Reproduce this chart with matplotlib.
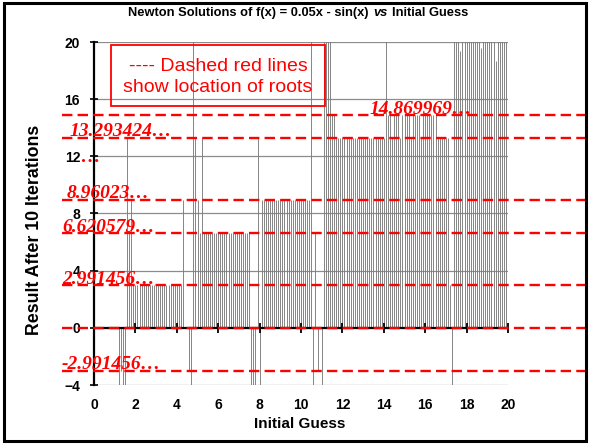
import numpy as np
import matplotlib.pyplot as plt
import matplotlib.transforms as mtransforms
from matplotlib.patches import Rectangle

plt.rcParams['font.family'] = ['Liberation Sans', 'DejaVu Sans']
plt.rcParams['font.weight'] = 'bold'

# initial guesses 0.0, 0.1, ... 20.0
guess = np.round(np.arange(201) * 0.1, 1)

# result after 10 iterations (values beyond the axis are clipped)
result = [
    0, 0, 0, 0, 0, 0, 0, 0, 0, 0,                                   # 0.0 - 0.9
    0, 0, -14.87, -2.99, -6.62, -8.96, 13.29, 6.62, 8.96, 2.99,     # 1.0 - 1.9
    2.99, 2.99, 2.99, 2.99, 2.99, 2.99, 2.99, 2.99, 2.99, 2.99,     # 2.0 - 2.9
    2.99, 2.99, 2.99, 2.99, 2.99, 2.99, 2.99, 2.99, 2.99, 2.99,     # 3.0 - 3.9
    2.99, 2.99, 2.99, 8.96, 0, 0, -2.99, -14.87, 37.8, 13.29,       # 4.0 - 4.9
    8.96, 6.62, 13.29, 6.62, 6.62, 6.62, 6.62, 6.62, 6.62, 6.62,    # 5.0 - 5.9
    6.62, 6.62, 6.62, 6.62, 6.62, 6.62, 6.62, 6.62, 6.62, 6.62,     # 6.0 - 6.9
    6.62, 6.62, 6.62, 6.62, 6.62, 6.62, -8.96, -13.29, -6.62, 13.29,  # 7.0 - 7.9
    -14.87, 8.96, 8.96, 8.96, 8.96, 8.96, 8.96, 8.96, 8.96, 8.96,   # 8.0 - 8.9
    8.96, 8.96, 8.96, 8.96, 8.96, 8.96, 8.96, 8.96, 8.96, 8.96,     # 9.0 - 9.9
    8.96, 8.96, 8.96, 8.96, 8.96, 30.0, -20.0, 6.62, -2.99, 0,      # 10.0 - 10.9
    -14.87, 25.0, 30.0, 25.0, 22.0, 14.87, 14.87, 13.29, 13.29, 13.29,  # 11.0 - 11.9
    13.29, 13.29, 13.29, 13.29, 13.29, 13.29, 13.29, 13.29, 13.29, 13.29,  # 12.0 - 12.9
    13.29, 13.29, 13.29, 13.29, 13.29, 13.29, 13.29, 13.29, 13.29, 13.29,  # 13.0 - 13.9
    13.29, 30.0, 14.87, 14.87, 13.29, 14.87, 14.87, 14.87, 13.29, 14.87,   # 14.0 - 14.9
    14.87, 14.87, 14.87, 13.29, 14.87, 14.87, 14.87, 14.87, 13.29, 14.87,  # 15.0 - 15.9
    14.87, 14.87, 14.87, 14.87, 14.87, 14.87, 13.29, 13.29, 13.29, 13.29,  # 16.0 - 16.9
    13.29, 13.29, 2.99, -14.87, 25.0, 25.0, 25.0, 19.4, 25.0, 25.0,        # 17.0 - 17.9
    25.0, 25.0, 25.0, 25.0, 25.0, 25.0, 25.0, 19.6, 25.0, 25.0,            # 18.0 - 18.9
    25.0, 25.0, 25.0, 25.0, 18.7, 25.0, 25.0, 25.0, 25.0, 25.0,            # 19.0 - 19.9
    25.0,                                                                  # 20.0
]

roots = [14.869969, 13.293424, 8.96023, 6.620579, 2.991456, 0.0, -2.991456]
root_labels = ['14.869969…', '13.293424…', '8.96023…', '6.620579…', '2.991456…', None, '-2.991456…']
label_px = [370, 70, 67, 62, 62, None, 62]   # left edge of each label, in pixels

xticks = list(range(0, 21, 2))
yticks = list(range(-4, 21, 4))

W, H = 590, 444
fig = plt.figure(figsize=(W / 100, H / 100), dpi=100)
fig.patch.set_facecolor('white')

ax_l, ax_r, ax_t, ax_b = 94, 508, 42, 385
ax = fig.add_axes([ax_l / W, 1 - ax_b / H, (ax_r - ax_l) / W, (ax_b - ax_t) / H])

ax.vlines(guess, 0, result, colors='#7c7c7c', linewidth=0.65, zorder=2)

ax.set_xlim(0, 20)
ax.set_ylim(-4, 20)
ax.set_xticks(xticks)
ax.set_yticks(yticks)
ax.yaxis.grid(True, color='#8c8c8c', linewidth=0.9)
ax.set_axisbelow(True)

for s in ['top', 'right', 'bottom']:
    ax.spines[s].set_visible(False)
ax.spines['left'].set_linewidth(1.6)
ax.spines['left'].set_zorder(4)

ax.tick_params(axis='y', direction='inout', length=6, width=1.2, labelsize=10, pad=7)
ax.tick_params(axis='x', length=0, labelsize=10, pad=9)

# horizontal axis crosses at 0
ax.axhline(0, color='black', linewidth=1.6, zorder=4)
ax.plot(xticks, [0] * len(xticks), ls='none', marker='|', ms=7, mew=1.3, color='black', zorder=4)

fig.text(300 / W, 1 - 424 / H, 'Initial Guess', ha='center', va='center', fontsize=11)
fig.text(35 / W, 1 - 230 / H, 'Result After 10 Iterations', ha='center', va='center',
         rotation=90, fontsize=12.8)

# dashed red root lines, reaching across the whole chart area
blend = mtransforms.blended_transform_factory(ax.transAxes, ax.transData)
x0 = (62 - ax_l) / (ax_r - ax_l)
x1 = (W - 4 - ax_l) / (ax_r - ax_l)
for r, lab, lx in zip(roots, root_labels, label_px):
    ln, = ax.plot([x0, x1], [r, r], transform=blend, clip_on=False,
                  color='#ff0000', linewidth=1.7, zorder=5)
    ln.set_dashes((4.4, 2.2))
    if lab:
        ax.annotate(lab, xy=((lx - ax_l) / (ax_r - ax_l), r), xycoords=blend,
                    xytext=(0, 1), textcoords='offset points', va='baseline', ha='left',
                    color='#ff0000', fontsize=14, fontweight='bold', fontstyle='italic',
                    family=['Liberation Serif'], annotation_clip=False, zorder=6)
ax.annotate('…', xy=((80 - ax_l) / (ax_r - ax_l), 12), xycoords=blend,
            xytext=(0, -4), textcoords='offset points', va='baseline', ha='left',
            color='#ff0000', fontsize=14, fontweight='bold', fontstyle='italic',
            family=['Liberation Serif'], annotation_clip=False, zorder=6)

# note box
fig.patches.append(Rectangle((111 / W, 1 - 106 / H), (325 - 111) / W, (106 - 45) / H,
                             transform=fig.transFigure, fill=False, edgecolor='#ff0000',
                             linewidth=1.3, zorder=7))
fig.text(218 / W, 1 - 77 / H, '---- Dashed red lines\nshow location of roots',
         ha='center', va='center', color='#ff0000', fontsize=14, fontweight='normal',
         linespacing=1.25, zorder=8)

# title with italic "vs"
parts = [('Newton Solutions of f(x) = 0.05x - sin(x)', 'normal'), ('vs', 'italic'), ('Initial Guess', 'normal')]
renderer = fig.canvas.get_renderer()
texts = [fig.text(0, 1 - 13 / H, p, fontsize=9.3, fontstyle=st, va='center', ha='left') for p, st in parts]
widths = [t.get_window_extent(renderer).width for t in texts]
gap = 5
total = sum(widths) + gap * (len(widths) - 1)
xpos = 298 - total / 2
for t, w in zip(texts, widths):
    t.set_x(xpos / W)
    xpos += w + gap

# outer chart border
fig.patches.append(Rectangle((4 / W, 3 / H), 1 - 8 / W, 1 - 6 / H, transform=fig.transFigure,
                             fill=False, edgecolor='black', linewidth=2.2, zorder=9))

fig.savefig('out.png', dpi=100)
